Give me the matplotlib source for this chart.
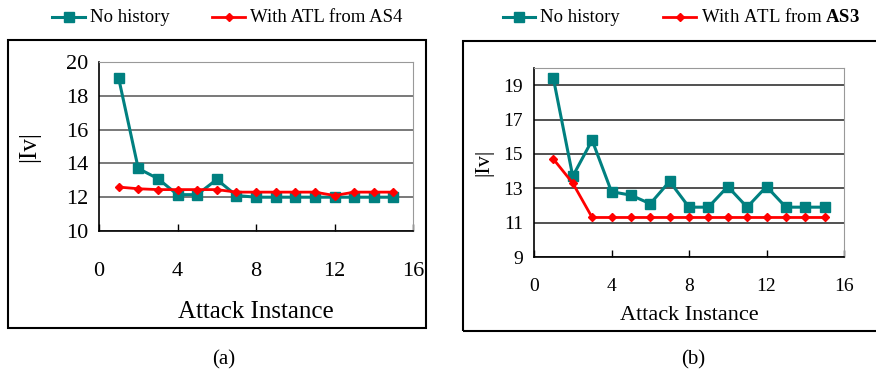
import numpy as np
import matplotlib
matplotlib.use("Agg")
import matplotlib.pyplot as plt
from matplotlib.lines import Line2D
from matplotlib.patches import Rectangle

plt.rcParams['font.family'] = ['Liberation Serif', 'DejaVu Serif']
plt.rcParams['mathtext.fontset'] = 'custom'
plt.rcParams['mathtext.rm'] = 'Liberation Serif'
plt.rcParams['mathtext.bf'] = 'Liberation Serif:bold'

# attack instances 1..15
attacks = list(range(1, 16))

# panel (a): history from AS4
a_no_history = [19.05, 13.7, 13.1, 12.15, 12.15, 13.05, 12.1,
                12.0, 12.0, 12.0, 12.0, 12.0, 12.0, 12.0, 12.0]
a_with_atl = [12.6, 12.5, 12.45, 12.45, 12.45, 12.45, 12.3,
              12.3, 12.3, 12.3, 12.3, 12.1, 12.3, 12.3, 12.3]

# panel (b): history from AS3
b_no_history = [19.4, 13.7, 15.8, 12.8, 12.6, 12.1, 13.4,
                11.9, 11.9, 13.1, 11.9, 13.1, 11.9, 11.9, 11.9]
b_with_atl = [14.7, 13.3, 11.3, 11.3, 11.3, 11.3, 11.3,
              11.3, 11.3, 11.3, 11.3, 11.3, 11.3, 11.3, 11.3]

x_ticks = [0, 4, 8, 12, 16]
a_yticks = [10, 12, 14, 16, 18, 20]
b_yticks = [9, 11, 13, 15, 17, 19]

TEAL = '#008080'
RED = '#ff0000'
W, H = 876, 372

fig = plt.figure(figsize=(W / 100, H / 100), dpi=100)


def px_box(x0, y0, x1, y1):
    # pixel box (top-left origin) -> figure fraction rect
    return [x0 / W, (H - y1) / H, (x1 - x0) / W, (y1 - y0) / H]


def legend_entry(x0, x1, y, color, marker, ms, lw, label, fs):
    fig.add_artist(Line2D([x0 / W, x1 / W], [1 - y / H, 1 - y / H],
                          color=color, lw=lw, transform=fig.transFigure))
    fig.add_artist(Line2D([(x0 + x1) / 2 / W], [1 - y / H], color=color,
                          marker=marker, ms=ms, lw=0, transform=fig.transFigure))
    fig.text((x1 + 5) / W, 1 - y / H, label, fontsize=fs, va='center', ha='left')


def panel(rect, yticks, ylim, no_hist, with_atl, tick_fs, label_fs, grid_col, xpad):
    ax = fig.add_axes(rect)
    ax.plot(attacks, no_hist, color=TEAL, lw=2.2, marker='s', ms=7.5, zorder=3)
    ax.plot(attacks, with_atl, color=RED, lw=2.0, marker='D', ms=4, zorder=4)
    ax.set_xlim(0, 16)
    ax.set_ylim(*ylim)
    ax.set_xticks(x_ticks)
    ax.set_yticks(yticks)
    ax.tick_params(axis='x', direction='in', length=5, width=1, pad=xpad,
                   labelsize=tick_fs)
    ax.tick_params(axis='y', length=0, pad=8, labelsize=tick_fs)
    ax.yaxis.grid(True, color=grid_col, lw=1.1)
    ax.set_axisbelow(True)
    for side in ['top', 'right']:
        ax.spines[side].set_color('#999999')
    for side in ['left', 'bottom']:
        ax.spines[side].set_color('black')
        ax.spines[side].set_linewidth(1.2)
    ax.set_ylabel('|Iv|', fontsize=label_fs)
    ax.set_xlabel('Attack Instance', fontsize=label_fs)
    return ax


# outer frames
fig.add_artist(Rectangle((8 / W, (H - 328) / H), 418 / W, 288 / H,
                         fill=False, ec='black', lw=1.5, transform=fig.transFigure))
fig.add_artist(Rectangle((463 / W, (H - 331) / H), 420 / W, 290 / H,
                         fill=False, ec='black', lw=1.5, transform=fig.transFigure))

ax_a = panel(px_box(99, 62, 413, 231), a_yticks, (10, 20),
             a_no_history, a_with_atl, 16, 18, '#555555', 22)
ax_a.yaxis.set_label_coords(-0.187, 0.5)
ax_a.xaxis.labelpad = 15

ax_b = panel(px_box(534, 68, 844, 257), b_yticks, (9, 20),
             b_no_history, b_with_atl, 14, 16, '#222222', 15)
ax_b.yaxis.set_label_coords(-0.13, 0.5)
ax_b.xaxis.labelpad = 8

legend_entry(52, 85, 17, TEAL, 's', 7, 2.2, 'No history', 13.5)
legend_entry(212, 245, 17, RED, 'D', 4, 2.0, 'With ATL from AS4', 13.5)
legend_entry(503, 535, 17, TEAL, 's', 7, 2.2, 'No history', 13.5)
legend_entry(663, 696, 17, RED, 'D', 4, 2.0, r'With ATL from $\mathbf{AS3}$', 13.5)

fig.text(224 / W, 1 - 360 / H, '(a)', fontsize=15, ha='center', va='center')
fig.text(693 / W, 1 - 360 / H, '(b)', fontsize=15, ha='center', va='center')

fig.savefig('out.png', dpi=100)
